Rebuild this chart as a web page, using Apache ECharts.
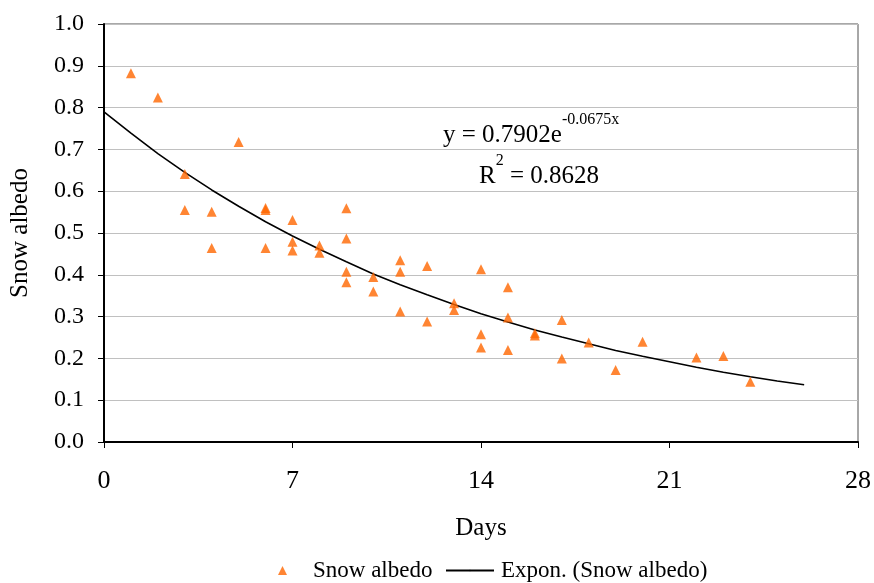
<!DOCTYPE html>
<html>
<head>
<meta charset="utf-8">
<script src="https://cdn.jsdelivr.net/npm/echarts/dist/echarts.min.js"></script>
<style>html,body{margin:0;padding:0;background:#fff}#c{width:874px;height:583px}</style>
</head>
<body>
<div id="c"></div>
<script>
var obsDays = [1,2,3,3,4,4,5,6,6,6,7,7,7,8,8,9,9,9,9,10,10,11,11,11,12,12,13,13,14,14,14,15,15,15,16,16,17,17,18,19,20,22,23,24];
var obsAlbedo = [0.882,0.824,0.641,0.555,0.551,0.464,0.718,0.560,0.555,0.464,0.531,0.479,0.458,0.470,0.453,0.559,0.487,0.407,0.382,0.395,0.360,0.435,0.407,0.312,0.421,0.288,0.332,0.316,0.413,0.258,0.226,0.370,0.298,0.220,0.260,0.255,0.292,0.200,0.238,0.172,0.240,0.202,0.206,0.144];
var trendDays = [0,1,2,3,4,5,6,7,8,9,10,11,12,13,14,15,16,17,18,19,20,21,22,23,24,25,26];
var trendAlbedo = [0.790,0.739,0.690,0.645,0.603,0.564,0.527,0.493,0.461,0.431,0.402,0.376,0.352,0.329,0.307,0.287,0.268,0.251,0.235,0.219,0.205,0.192,0.179,0.167,0.156,0.146,0.137];
var equationText = ['y = 0.7902e', '-0.0675x'];
var r2Text = ['R', '2', ' = 0.8628'];
var seriesNames = ['Snow albedo', 'Expon. (Snow albedo)'];

var FONT = "'Liberation Serif','Times New Roman',serif";
var obs = obsDays.map(function(d,i){return [d, obsAlbedo[i]];});
var trend = trendDays.map(function(d,i){return [d, trendAlbedo[i]];});

var richEq = {
  a: {fontFamily: FONT, fontSize: 25, fill: '#000', verticalAlign: 'bottom', lineHeight: 36},
  b: {fontFamily: FONT, fontSize: 16, fill: '#000', verticalAlign: 'top', lineHeight: 10}
};

var chart = echarts.init(document.getElementById('c'), null, {renderer:'canvas'});
chart.setOption({
  animation: false,
  backgroundColor: '#fff',
  textStyle: {fontFamily: FONT},
  grid: {left: 104, right: 15, top: 24, bottom: 141, show: true, borderColor: '#505050', borderWidth: 1},
  xAxis: {
    type: 'value', min: 0, max: 28, interval: 7,
    name: 'Days', nameLocation: 'middle', nameGap: 74,
    nameTextStyle: {fontFamily: FONT, fontSize: 25, color: '#000'},
    axisLine: {lineStyle: {color: '#000', width: 2}},
    axisTick: {show: true, inside: false, length: 6, lineStyle: {color: '#000', width: 1}},
    axisLabel: {fontFamily: FONT, fontSize: 26, color: '#000', margin: 26},
    splitLine: {show: false}
  },
  yAxis: {
    type: 'value', min: 0, max: 1, interval: 0.1,
    name: 'Snow albedo', nameLocation: 'middle', nameGap: 71,
    nameTextStyle: {fontFamily: FONT, fontSize: 25, color: '#000'},
    axisLine: {show: true, lineStyle: {color: '#000', width: 2}},
    axisTick: {show: true, inside: false, length: 6, lineStyle: {color: '#000', width: 1}},
    axisLabel: {fontFamily: FONT, fontSize: 24, color: '#000', margin: 20, formatter: function(v){return v.toFixed(1);}},
    splitLine: {show: true, lineStyle: {color: '#c0c0c0', width: 1}}
  },
  legend: [{
    data: [seriesNames[0]], top: 559, left: 278, padding: 0,
    itemWidth: 9, itemHeight: 9, itemGap: 0,
    textStyle: {fontFamily: FONT, fontSize: 23, color: '#000', padding: [0,0,0,21]}
  },{
    data: [seriesNames[1]], top: 559, left: 445, padding: 0,
    itemWidth: 48, itemHeight: 2, itemGap: 0,
    textStyle: {fontFamily: FONT, fontSize: 23, color: '#000', padding: [0,0,0,2]}
  }],
  graphic: [{
    type: 'text', left: 443, top: 112,
    style: {text: '{a|' + equationText[0] + '}{b|' + equationText[1] + '}', rich: richEq}
  },{
    type: 'text', left: 479, top: 153,
    style: {text: '{a|' + r2Text[0] + '}{b|' + r2Text[1] + '}{a|' + r2Text[2] + '}', rich: richEq}
  }],
  series: [{
    name: seriesNames[0], type: 'scatter', data: obs,
    symbol: 'triangle', symbolSize: [10, 10],
    itemStyle: {color: '#ff6600'}, z: 3
  },{
    name: seriesNames[1], type: 'line', data: trend,
    showSymbol: false, symbol: 'none', smooth: false,
    lineStyle: {color: '#000', width: 1.6},
    itemStyle: {color: '#000'}, z: 2
  }]
});
</script>
</body>
</html>
